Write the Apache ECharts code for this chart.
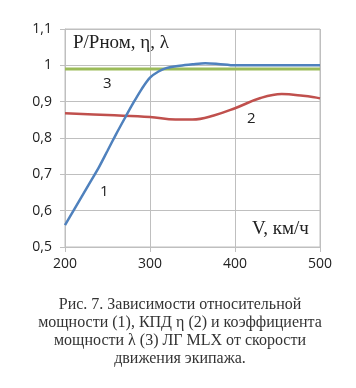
<!DOCTYPE html>
<html><head><meta charset="utf-8">
<script src="https://cdn.jsdelivr.net/npm/echarts@6/dist/echarts.min.js"></script>
<style>html,body{margin:0;padding:0;background:#fff}#c{width:356px;height:388px}</style>
</head><body><div id="c"></div>
<script>
var xTicks = [200, 300, 400, 500];
var yTicks = [0.5, 0.6, 0.7, 0.8, 0.9, 1.0, 1.1];
var powerV = [200, 210, 220, 230, 240, 250, 260, 270, 280, 290, 300, 310, 320, 335, 350, 365, 380, 400, 450, 500];
var powerVal = [0.56, 0.60, 0.64, 0.68, 0.72, 0.765, 0.81, 0.853, 0.895, 0.934, 0.966, 0.983, 0.993, 0.999, 1.003, 1.006, 1.004, 1.0, 1.0, 1.0];
var effV = [200, 250, 300, 330, 350, 375, 400, 430, 455, 480, 500];
var effVal = [0.868, 0.863, 0.858, 0.851, 0.851, 0.862, 0.882, 0.91, 0.921, 0.916, 0.909];
var lamV = [200, 500];
var lamVal = [0.99, 0.99];
var curveLabels = ['1', '2', '3'];
var yTitle = 'P/Pном, η, λ';
var xTitle = 'V, км/ч';
var caption = ['Рис. 7. Зависимости относительной', 'мощности (1), КПД η (2) и коэффициента', 'мощности λ (3) ЛГ MLX от скорости', 'движения экипажа.'];

function pairs(xs, ys){ return xs.map(function(x,i){return [x, ys[i]];}); }

var chart = echarts.init(document.getElementById('c'), null, {renderer:'canvas'});
var gridColor = '#bfbfbf';
var serif = '"Liberation Serif","DejaVu Serif",serif';
var sans = '"Open Sans","Liberation Sans",sans-serif';
chart.setOption({
  animation: false,
  grid: {left: 65, right: 36, top: 29, bottom: 141, show: true, borderColor: gridColor, borderWidth: 1},
  xAxis: {type: 'value', min: 200, max: 500, interval: 100,
    axisLine: {show: true, lineStyle: {color: gridColor}},
    axisTick: {show: true, length: 5, lineStyle: {color: gridColor}},
    splitLine: {show: true, lineStyle: {color: gridColor}},
    axisLabel: {color: '#222', fontFamily: sans, fontSize: 14, margin: 10}},
  yAxis: {type: 'value', min: 0.5, max: 1.1, interval: 0.1,
    axisLine: {show: true, lineStyle: {color: gridColor}},
    axisTick: {show: true, length: 5, lineStyle: {color: gridColor}},
    splitLine: {show: true, lineStyle: {color: gridColor}},
    axisLabel: {color: '#222', fontFamily: sans, fontSize: 14, margin: 13,
      formatter: function(v){ var s = (Math.round(v*10)/10).toString(); return s.replace('.', ','); }}},
  series: [
    {type: 'line', data: pairs(lamV, lamVal), symbol: 'none', lineStyle: {color: '#9bbb59', width: 3}, z: 2},
    {type: 'line', data: pairs(effV, effVal), smooth: 0.4, symbol: 'none', lineStyle: {color: '#c0504d', width: 2.5}, z: 3},
    {type: 'line', data: pairs(powerV, powerVal), smooth: 0.3, symbol: 'none', lineStyle: {color: '#4f81bd', width: 2.5}, z: 4}
  ],
  graphic: [
    {type: 'text', left: 73, top: 34, style: {text: yTitle, font: '19px ' + serif, fill: '#222'}},
    {type: 'text', left: 252, top: 220, style: {text: xTitle, font: '19px ' + serif, fill: '#222'}},
    {type: 'text', left: 100, top: 184, style: {text: curveLabels[0], font: '15px ' + sans, fill: '#222'}},
    {type: 'text', left: 247, top: 111, style: {text: curveLabels[1], font: '15px ' + sans, fill: '#222'}},
    {type: 'text', left: 103, top: 76, style: {text: curveLabels[2], font: '15px ' + sans, fill: '#222'}},
    {type: 'text', x: 180, y: 296, style: {text: caption.join('\n'), font: '16px ' + serif, fill: '#333', align: 'center', lineHeight: 18}}
  ]
});
</script></body></html>
